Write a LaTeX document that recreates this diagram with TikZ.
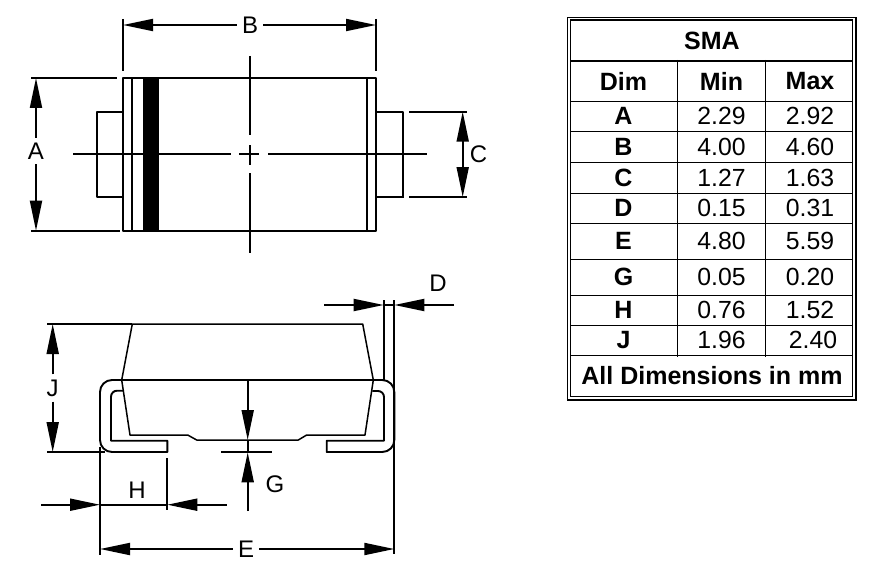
\documentclass[tikz,border=0pt]{standalone}
\usepackage{fontspec}
\setmainfont{Liberation Sans}
\usetikzlibrary{arrows.meta}
\tikzset{
	part/.style={line width=1.9pt, line join=round},
	dimline/.style={line width=1.9pt, -{Triangle[length=30pt,width=12pt]}},
	extline/.style={line width=1.9pt},
	centerline/.style={line width=1.9pt},
	dimlabel/.style={inner sep=5pt, font=\fontsize{24}{24}\selectfont},
	gridline/.style={line width=1.3pt},
	cellnum/.style={inner sep=0pt, font=\fontsize{24.8}{24.8}\selectfont},
	cellhead/.style={inner sep=0pt, font=\fontsize{25}{25}\selectfont\bfseries}
}
\begin{document}
\begin{tikzpicture}[x=1pt, y=-1pt]
	\path[use as bounding box, fill=white] (0,0) rectangle (890,575);
	% top view
	\draw[part] (122.7,78) rectangle (376,230.7);
	\draw[part] (132,78)--(132,230.7);
	\draw[part] (367.3,78)--(367.3,230.7);
	\fill (143.3,78) rectangle (158.7,230.7);
	\draw[part] (122.7,111.7)--(96.7,111.7)--(96.7,197)--(122.7,197);
	\draw[part] (376,111.7)--(403,111.7)--(403,198);
	\draw[part] (403,197)--(376,197);
	\draw[centerline] (73,154)--(230.7,154);
	\draw[centerline] (239.3,154)--(259.3,154);
	\draw[centerline] (268.3,154)--(426.7,154);
	\draw[centerline] (250,56)--(250,135.3);
	\draw[centerline] (250,145)--(250,165);
	\draw[centerline] (250,173.3)--(250,252.7);
	% dimensions of top view
	\draw[extline] (31,78)--(116.7,78);
	\draw[extline] (31,230.7)--(120,230.7);
	\draw[extline] (123,19)--(123,70.7);
	\draw[extline] (376,19)--(376,70.7);
	\draw[extline] (409.3,111.7)--(467.3,111.7);
	\draw[extline] (409.3,197)--(467.3,197);
	\node[dimlabel] (labelA) at (36,151) {A};
	\coordinate (topA) at (36,78);
	\coordinate (botA) at (36,230.7);
	\draw[dimline] (labelA)--(topA);
	\draw[dimline] (labelA)--(botA);
	\node[dimlabel] (labelB) at (250,25) {B};
	\coordinate (leftB) at (123,25);
	\coordinate (rightB) at (376,25);
	\draw[dimline] (labelB)--(leftB);
	\draw[dimline] (labelB)--(rightB);
	\coordinate (midC) at (462.7,154);
	\coordinate (topC) at (462.7,111.7);
	\coordinate (botC) at (462.7,197);
	\draw[dimline] (midC)--(topC);
	\draw[dimline] (midC)--(botC);
	\node[dimlabel] (labelC) at (478.5,154) {C};
	% side view
	\draw[part, line width=1.5pt] (132.3,324)--(121.7,380)--(130,435)--(187.7,435)--(196.7,440)--(298.3,440)--(306.7,435)--(365,435)--(373.3,380)--(362.7,324)--cycle;
	\draw[part] (373.3,380)--(121.7,380);
	\draw[part] (121.7,380) [rounded corners=12pt] --(100,380)--(100,452) [sharp corners] --(167.3,452)--(167.3,440.7)--(111,440.7) [rounded corners=6pt] --(111,390.7) [sharp corners] --(123.3,390.7);
	\draw[part] (373.3,380) [rounded corners=12pt] --(394.3,380)--(394.3,452) [sharp corners] --(326.7,452)--(326.7,440.7)--(384,440.7) [rounded corners=6pt] --(384,391) [sharp corners] --(372.3,391);
	% dimensions of side view
	\draw[extline] (47.3,324)--(132.3,324);
	\draw[extline] (47.3,452)--(105,452);
	\draw[extline] (100,446.7)--(100,555);
	\draw[extline] (167.3,458.3)--(167.3,510);
	\draw[extline] (383.7,300)--(383.7,380);
	\draw[extline] (394.3,300)--(394.3,554);
	\draw[extline] (221,452)--(271.7,452);
	\node[dimlabel] (labelJ) at (52.7,388) {J};
	\coordinate (topJ) at (52.7,324);
	\coordinate (botJ) at (52.7,452);
	\draw[dimline] (labelJ)--(topJ);
	\draw[dimline] (labelJ)--(botJ);
	\node[dimlabel] (labelH) at (137,490) {H};
	\coordinate (leftH) at (41,504.7);
	\coordinate (tipHa) at (100,504.7);
	\coordinate (rightH) at (226.7,504.7);
	\coordinate (tipHb) at (167.3,504.7);
	\draw[dimline] (leftH)--(tipHa);
	\draw[dimline] (rightH)--(tipHb);
	\draw[extline] (tipHa)--(tipHb);
	\node[dimlabel] (labelE) at (246,549) {E};
	\coordinate (leftE) at (100,549);
	\coordinate (rightE) at (394.3,549);
	\draw[dimline] (labelE)--(leftE);
	\draw[dimline] (labelE)--(rightE);
	\node[dimlabel] (labelD) at (438,283) {D};
	\coordinate (leftD) at (324,305);
	\coordinate (tipDa) at (383.7,305);
	\coordinate (rightD) at (454,305);
	\coordinate (tipDb) at (394.3,305);
	\draw[dimline] (leftD)--(tipDa);
	\draw[dimline] (rightD)--(tipDb);
	\draw[extline] (tipDa)--(tipDb);
	\node[dimlabel] (labelG) at (275,484) {G};
	\coordinate (startG) at (247.7,380);
	\coordinate (tipGa) at (247.7,440);
	\coordinate (endG) at (247.7,511);
	\coordinate (tipGb) at (247.7,452.3);
	\draw[dimline] (startG)--(tipGa);
	\draw[dimline] (endG)--(tipGb);
	\draw[extline] (tipGa)--(tipGb);
	% table
	\draw[gridline] (567.3,17.3) rectangle (856,400);
	\draw[gridline] (570.7,20) rectangle (852.3,396.7);
	\foreach \liney in {61,101.3,131.3,162.3,193.3,223.3,259.3,295.3,325.3,355.3}
		\draw[gridline] (570.7,\liney)--(852.3,\liney);
	\foreach \linex in {677.3,765.7}
		\draw[gridline] (\linex,60)--(\linex,356.5);
	\node[cellhead] (titleSMA) at (712,40.5) {SMA};
	\node[cellhead] (headDim) at (623.5,81) {Dim};
	\node[cellhead] (headMin) at (721.5,81) {Min};
	\node[cellhead] (headMax) at (810,81) {Max};
	\foreach \rowy/\dimname/\minval/\maxval/\maxx in {116/A/2.29/2.92/810,146.5/B/4.00/4.60/810,177.5/C/1.27/1.63/810,208/D/0.15/0.31/810,241/E/4.80/5.59/810,277/G/0.05/0.20/810,310/H/0.76/1.52/810,340/J/1.96/2.40/813}{
		\node[cellhead] (dim\dimname) at (623.5,\rowy) {\dimname};
		\node[cellnum] (min\dimname) at (721.5,\rowy) {\minval};
		\node[cellnum] (max\dimname) at (\maxx,\rowy) {\maxval};
	}
	\node[cellhead] (noteAll) at (712,375.7) {All Dimensions in mm};
\end{tikzpicture}
\end{document}
